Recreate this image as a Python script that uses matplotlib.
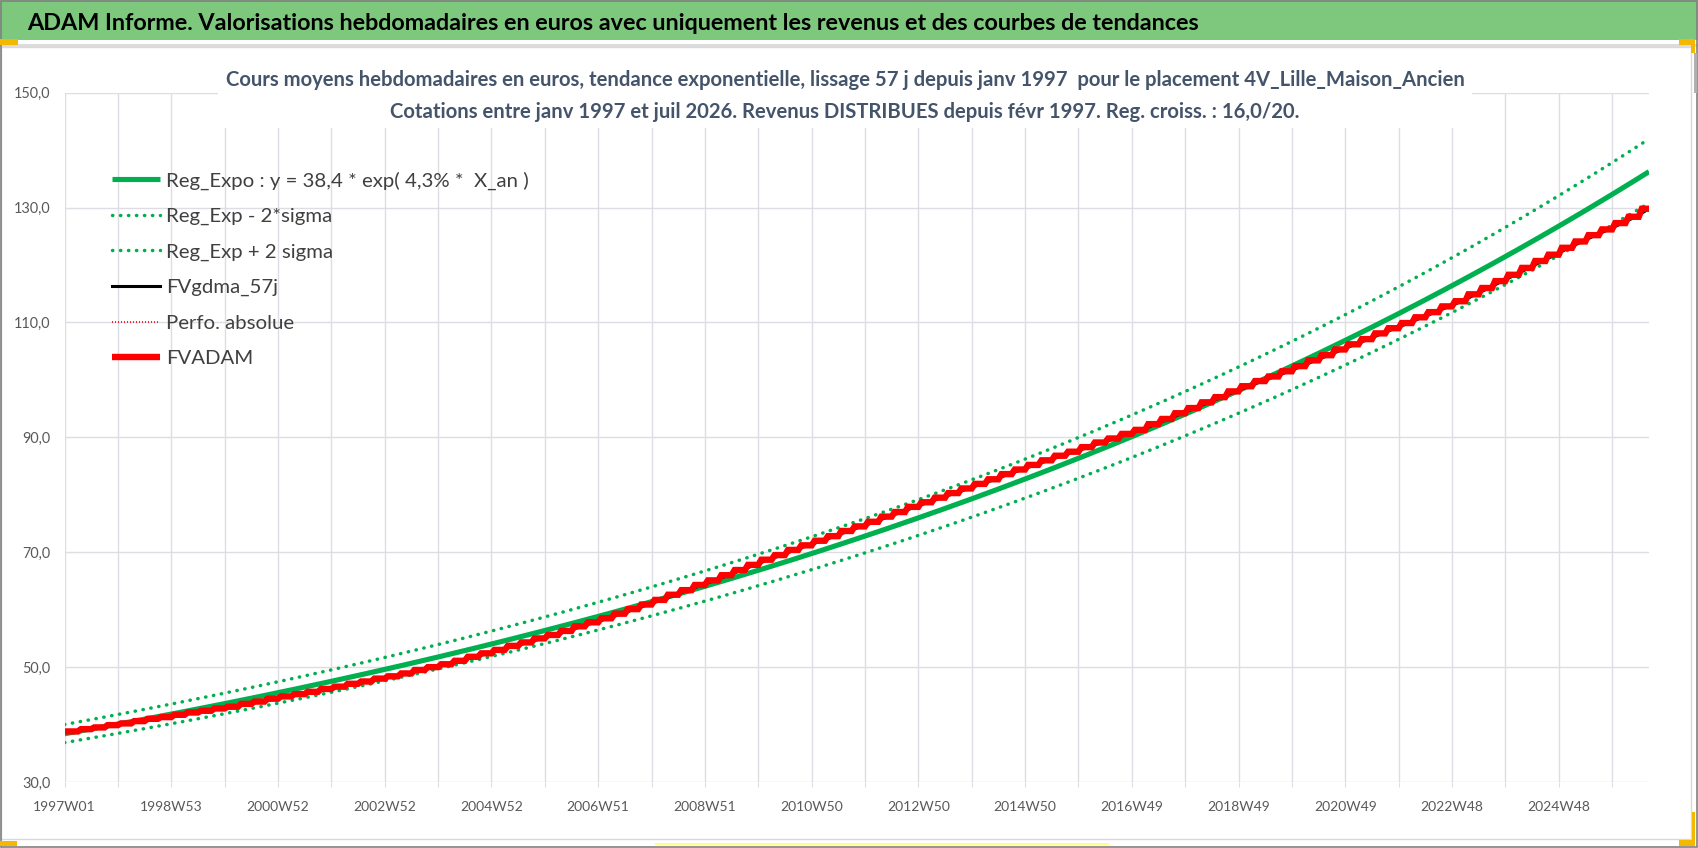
import numpy as np
import matplotlib
matplotlib.use("Agg")
import matplotlib.pyplot as plt
from matplotlib.patches import Rectangle

# ---------------- data ----------------
title_main = ("ADAM Informe. Valorisations hebdomadaires en euros avec uniquement "
              "les revenus et des courbes de tendances")
subtitle_1 = ("Cours moyens hebdomadaires en euros, tendance exponentielle, lissage 57 j "
              "depuis janv 1997  pour le placement 4V_Lille_Maison_Ancien")
subtitle_2 = ("Cotations entre janv 1997 et juil 2026. Revenus DISTRIBUES depuis "
              "févr 1997. Reg. croiss. : 16,0/20.")

legend_labels = ["Reg_Expo : y = 38,4 * exp( 4,3% *  X_an )",
                 "Reg_Exp - 2*sigma",
                 "Reg_Exp + 2 sigma",
                 "FVgdma_57j",
                 "Perfo. absolue",
                 "FVADAM"]

n_weeks = 1545                      # weekly categories 1997W01 .. 2026W30
weeks_per_year = 52.18
reg_a = 38.4                        # Reg_Expo coefficient
reg_growth = 0.0428                 # "4,3 %" per year (rounded in the legend)
reg_two_sigma = 0.041               # width of the +/- 2 sigma band (log)

x_tick_labels = ["1997W01", "1998W53", "2000W52", "2002W52", "2004W52",
                 "2006W51", "2008W51", "2010W50", "2012W50", "2014W50",
                 "2016W49", "2018W49", "2020W49", "2022W48", "2024W48"]
y_ticks = [30, 50, 70, 90, 110, 130, 150]
y_tick_labels = ["30,0", "50,0", "70,0", "90,0", "110,0", "130,0", "150,0"]

# FVADAM, one level per quarter (income distributed each quarter)
fvadam_quarterly = [
    38.8, 39.2, 39.5, 39.9,      # 1997
    40.2, 40.6, 41.0, 41.3,      # 1998
    41.7, 42.1, 42.4, 42.8,      # 1999
    43.1, 43.6, 44.0, 44.5,      # 2000
    44.9, 45.3, 45.7, 46.2,      # 2001
    46.6, 47.1, 47.5, 48.0,      # 2002
    48.4, 48.9, 49.5, 50.0,      # 2003
    50.5, 51.1, 51.8, 52.4,      # 2004
    53.0, 53.7, 54.3, 55.0,      # 2005
    55.6, 56.3, 57.1, 57.8,      # 2006
    58.5, 59.3, 60.1, 60.9,      # 2007
    61.7, 62.6, 63.4, 64.3,      # 2008
    65.1, 66.0, 66.9, 67.8,      # 2009
    68.7, 69.5, 70.4, 71.2,      # 2010
    72.0, 72.8, 73.7, 74.5,      # 2011
    75.3, 76.2, 77.0, 77.9,      # 2012
    78.7, 79.5, 80.3, 81.1,      # 2013
    81.9, 82.7, 83.6, 84.4,      # 2014
    85.2, 86.0, 86.8, 87.5,      # 2015
    88.3, 89.1, 89.8, 90.6,      # 2016
    91.3, 92.3, 93.2, 94.2,      # 2017
    95.1, 96.1, 97.0, 98.0,      # 2018
    98.9, 99.8, 100.6, 101.5,    # 2019
    102.4, 103.4, 104.3, 105.3,  # 2020
    106.2, 107.1, 108.1, 109.0,  # 2021
    109.9, 110.9, 111.8, 112.8,  # 2022
    113.7, 114.9, 116.0, 117.2,  # 2023
    118.3, 119.5, 120.7, 121.8,  # 2024
    123.0, 124.1, 125.2, 126.2,  # 2025
    127.3, 128.4, 129.8,         # 2026
]

# ---------------- styles ----------------
W, H = 1698, 848
GREEN = "#00b050"
RED = "#ff0000"
GRID = "#dcdee4"
TICK_TXT = "#595959"
SUB_TXT = "#44546a"
FONT = "Lato"

plt.rcParams["font.family"] = [FONT, "DejaVu Sans"]

fig = plt.figure(figsize=(W / 100, H / 100), dpi=100)
fig.patch.set_facecolor("white")
renderer = fig.canvas.get_renderer()


def fit_size(text, target_px, **kw):
    t = fig.text(0, 0, text, fontsize=10, **kw)
    w = t.get_window_extent(renderer).width
    t.remove()
    return 10.0 * target_px / w


def px_rect(x0, y0, x1, y1, **kw):
    r = Rectangle((x0 / W, 1 - y1 / H), (x1 - x0) / W, (y1 - y0) / H,
                  transform=fig.transFigure, **kw)
    fig.add_artist(r)
    return r


# ---------------- frame decorations ----------------
px_rect(0, 0, W, 39.5, facecolor="#7ec87e", edgecolor="none", zorder=1)
px_rect(0, 44.5, W, 46.5, facecolor="#dcdcdc", edgecolor="none", zorder=1)
px_rect(0.5, 47, 1691, 839, facecolor="none", edgecolor="#d9d9d9", lw=1.0, zorder=1)
px_rect(0.5, 0.5, W - 1, H - 1, facecolor="none", edgecolor="#808080", lw=1.2, zorder=6)
GOLD = "#f5b800"
px_rect(0, 39, 17.5, 44.5, facecolor=GOLD, edgecolor="none", zorder=7)
px_rect(1679, 39, 1695, 45, facecolor=GOLD, edgecolor="none", zorder=7)
px_rect(1691, 39, 1695, 53, facecolor=GOLD, edgecolor="none", zorder=7)
px_rect(1692, 812, 1695, 846, facecolor=GOLD, edgecolor="none", zorder=7)
px_rect(1679, 840, 1695, 846, facecolor=GOLD, edgecolor="none", zorder=7)
px_rect(0, 841, 17, 846, facecolor=GOLD, edgecolor="none", zorder=7)
px_rect(655, 842.5, 1109, 844.5, facecolor="#ffff88", edgecolor="none", zorder=7)
px_rect(1694, 53, 1697, 93, facecolor="#b0b0b0", edgecolor="none", zorder=7)

# ---------------- axes ----------------
ax_left, ax_right, ax_top, ax_bottom = 64.5, 1649, 92.7, 782
ax = fig.add_axes([ax_left / W, 1 - ax_bottom / H,
                   (ax_right - ax_left) / W, (ax_bottom - ax_top) / H])
ax.set_facecolor("none")
for s in ax.spines.values():
    s.set_visible(False)

weeks = np.arange(n_weeks)
t_years = weeks / weeks_per_year
reg = reg_a * np.exp(reg_growth * t_years)
reg_lo = reg * np.exp(-reg_two_sigma)
reg_hi = reg * np.exp(reg_two_sigma)

# FVADAM polyline: level held through each quarter, short slanted rise at
# each quarterly distribution
fv = np.array(fvadam_quarterly)
q_x = np.arange(len(fv)) * 13
rise = 3
fv_x = [0.0]
fv_y = [fv[0]]
for q in range(1, len(fv)):
    fv_x += [q_x[q], q_x[q] + rise]
    fv_y += [fv[q - 1], fv[q]]
fv_x.append(n_weeks - 1)
fv_y.append(fv[-1])

dots = (0, (0.1, 2.2))
l_reg, = ax.plot(weeks, reg, color=GREEN, lw=3.7, zorder=3, solid_capstyle="butt")
l_lo, = ax.plot(weeks, reg_lo, color=GREEN, lw=2.5, ls=dots, dash_capstyle="round", zorder=2)
l_hi, = ax.plot(weeks, reg_hi, color=GREEN, lw=2.5, ls=dots, dash_capstyle="round", zorder=2)
l_gdma, = ax.plot(q_x + 10, fv, color="black", lw=2.2, zorder=4)
l_perf, = ax.plot(fv_x, fv_y, color=RED, lw=1.2, ls=(0, (0.6, 1.2)), zorder=4.5)
l_fv, = ax.plot(fv_x, fv_y, color=RED, lw=4.6, zorder=5,
                solid_capstyle="butt", solid_joinstyle="miter")

ax.set_xlim(0, n_weeks - 1)
ax.set_ylim(30, 150)
ax.set_yticks(y_ticks)
ax.set_yticklabels(y_tick_labels)
xt = np.arange(0, n_weeks, 52)
ax.set_xticks(xt)
lab = [""] * len(xt)
for i, s in enumerate(x_tick_labels):
    lab[2 * i] = s
ax.set_xticklabels(lab)
ax.grid(True, color=GRID, lw=1.0, zorder=0)
ax.set_axisbelow(True)

fs_x = fit_size("2024W48", 63)
fs_y = fit_size("150,0", 37)
ax.tick_params(axis="x", length=3.6, width=0.8, color=GRID, pad=10,
               labelcolor=TICK_TXT, labelsize=fs_x)
ax.tick_params(axis="y", length=0, pad=10, labelcolor=TICK_TXT, labelsize=fs_y)

# ---------------- titles ----------------
fs_title = fit_size(title_main, 1180, fontweight="bold")
fig.text(26.7 / W, 1 - 23 / H, title_main, ha="left", va="center",
         fontsize=fs_title, fontweight="bold", color="black", zorder=8)

fs_sub = fit_size(subtitle_1, 1245, fontweight="bold")
px_rect(218, 58, 1472, 128, facecolor="white", edgecolor="none", zorder=1.5)
fig.text(845.5 / W, 1 - 80 / H, subtitle_1, ha="center", va="center",
         fontsize=fs_sub, fontweight="bold", color=SUB_TXT, zorder=8)
fig.text(845 / W, 1 - 112 / H, subtitle_2, ha="center", va="center",
         fontsize=fs_sub, fontweight="bold", color=SUB_TXT, zorder=8)

# ---------------- legend ----------------
handles = [l_reg, l_lo, l_hi, l_gdma, l_perf, l_fv]
fs_leg = fit_size(legend_labels[0], 361)
fs_px = fs_leg * 100 / 72
hl = 48 / fs_px
htp = 6 / fs_px
target_c0 = H - 180.5
target_sp = 35.6
target_left = 111.7


def make_legend(ls, ax_x, ax_y):
    return ax.legend(handles, legend_labels, loc="upper left",
                     bbox_to_anchor=(ax_x, ax_y), bbox_transform=fig.transFigure,
                     frameon=False, fontsize=fs_leg, handlelength=hl,
                     handletextpad=htp, labelspacing=ls, borderpad=0,
                     borderaxespad=0, labelcolor="#404040")


ls = 0.8
anchor_x, anchor_y = target_left / W, 1 - 165 / H
leg = make_legend(ls, anchor_x, anchor_y)
fig.canvas.draw()
tb = [t.get_window_extent(renderer) for t in leg.get_texts()]
sp = ((tb[0].y0 + tb[0].y1) - (tb[-1].y0 + tb[-1].y1)) / 2 / (len(tb) - 1)
ls = ls + (target_sp - sp) / fs_px
leg.remove()
leg = make_legend(ls, anchor_x, anchor_y)
fig.canvas.draw()
tb = [t.get_window_extent(renderer) for t in leg.get_texts()]
c0 = (tb[0].y0 + tb[0].y1) / 2
hb = leg.legend_handles[0].get_window_extent(renderer)
anchor_y += (target_c0 - c0) / H
anchor_x += (target_left - hb.x0) / W
leg.remove()
leg = make_legend(ls, anchor_x, anchor_y)

fig.savefig("out.png", dpi=100, facecolor="white")
